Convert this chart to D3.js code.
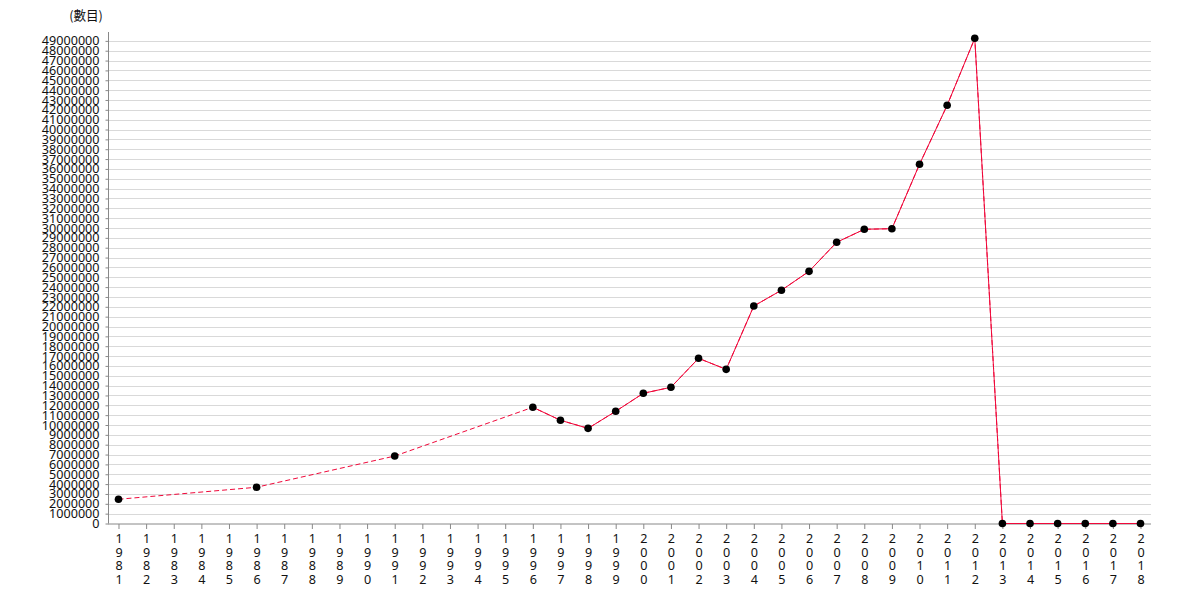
<!DOCTYPE html>
<html>
<head>
<meta charset="utf-8">
<script src="https://cdn.jsdelivr.net/npm/d3@7"></script>
<style>
  html, body { margin: 0; padding: 0; background: #fff; }
  svg { display: block; font-family: "Noto Sans", "Noto Sans CJK TC", sans-serif; }
</style>
</head>
<body>
<svg id="chart" width="1180" height="600"></svg>
<script>
const years = ["1981","1982","1983","1984","1985","1986","1987","1988","1989","1990",
  "1991","1992","1993","1994","1995","1996","1997","1998","1999","2000",
  "2001","2002","2003","2004","2005","2006","2007","2008","2009","2010",
  "2011","2012","2013","2014","2015","2016","2017","2018"];
const values = [2460000, null, null, null, null, 3680000, null, null, null, null,
  6850000, null, null, null, null, 11800000, 10480000, 9660000, 11390000, 13220000,
  13830000, 16770000, 15650000, 22080000, 23680000, 25600000, 28550000, 29870000, 29930000, 36470000,
  42460000, 49260000, 0, 0, 0, 0, 0, 0];
const yTicks = d3.range(0, 49000001, 1000000);
const unitLabel = "(數目)";

(function () {
const svg = d3.select("#chart");
const mLeft = 108, mRight = 1151, mTop = 32, mBottom = 523.5;

const x = d3.scalePoint().domain(years).range([mLeft, mRight]).padding(0.38);
const y = d3.scaleLinear().domain([0, 49900000]).range([mBottom, mTop]);

// grid
svg.append("g").selectAll("line").data(yTicks.filter(d => d > 0)).join("line")
  .attr("x1", mLeft).attr("x2", mRight)
  .attr("y1", d => Math.round(y(d)) + 0.5).attr("y2", d => Math.round(y(d)) + 0.5)
  .attr("stroke", "#d9d9d9").attr("stroke-width", 1);

// y axis
const yAxis = svg.append("g").attr("transform", `translate(${mLeft + 0.5},0)`)
  .call(d3.axisLeft(y).tickValues(yTicks).tickFormat(d3.format("d")).tickSize(3).tickPadding(6).tickSizeOuter(0));
yAxis.select(".domain").attr("stroke", "#888").attr("d", `M0,${mTop}V${mBottom}`);
yAxis.selectAll(".tick line").attr("stroke", "#888");
yAxis.selectAll(".tick text").attr("font-size", "12.6px").attr("fill", "#111")
  .attr("font-family", "'Noto Sans', sans-serif");

// x axis
const xAxis = svg.append("g").attr("transform", `translate(0,${mBottom + 0.5})`)
  .call(d3.axisBottom(x).tickSize(5).tickSizeOuter(0).tickFormat(""));
xAxis.select(".domain").attr("stroke", "#888").attr("d", `M${mLeft},0H${mRight}`);
xAxis.selectAll(".tick line").attr("stroke", "#888");
xAxis.selectAll(".tick").each(function(d) {
  const t = d3.select(this).append("text")
    .attr("fill", "#111").attr("font-size", "12.6px").attr("text-anchor", "middle")
    .attr("font-family", "'Noto Sans', sans-serif");
  d.split("").forEach((ch, i) => {
    t.append("tspan").attr("x", 0).attr("y", 19 + i * 13.5).text(ch);
  });
});

// unit label
svg.append("text").attr("x", 86).attr("y", 20).attr("text-anchor", "middle")
  .attr("font-size", "12.6px").attr("fill", "#111")
  .attr("font-family", "'Noto Sans CJK TC', 'Noto Sans', sans-serif").text(unitLabel);

const pts = years.map((yr, i) => ({ yr, v: values[i] }));
const defined = pts.filter(d => d.v !== null);
const lineColor = "#f0083a";

// dashed line across gaps
svg.append("path").datum(defined)
  .attr("fill", "none").attr("stroke", lineColor).attr("stroke-width", 1)
  .attr("stroke-dasharray", "5,3")
  .attr("d", d3.line().x(d => x(d.yr)).y(d => y(d.v)));

// solid line where consecutive
svg.append("path").datum(pts)
  .attr("fill", "none").attr("stroke", lineColor).attr("stroke-width", 1)
  .attr("d", d3.line().defined(d => d.v !== null).x(d => x(d.yr)).y(d => y(d.v)));

// points
svg.append("g").selectAll("circle").data(defined).join("circle")
  .attr("cx", d => x(d.yr)).attr("cy", d => y(d.v)).attr("r", 3.8)
  .attr("fill", "#000");
})();
</script>
</body>
</html>
